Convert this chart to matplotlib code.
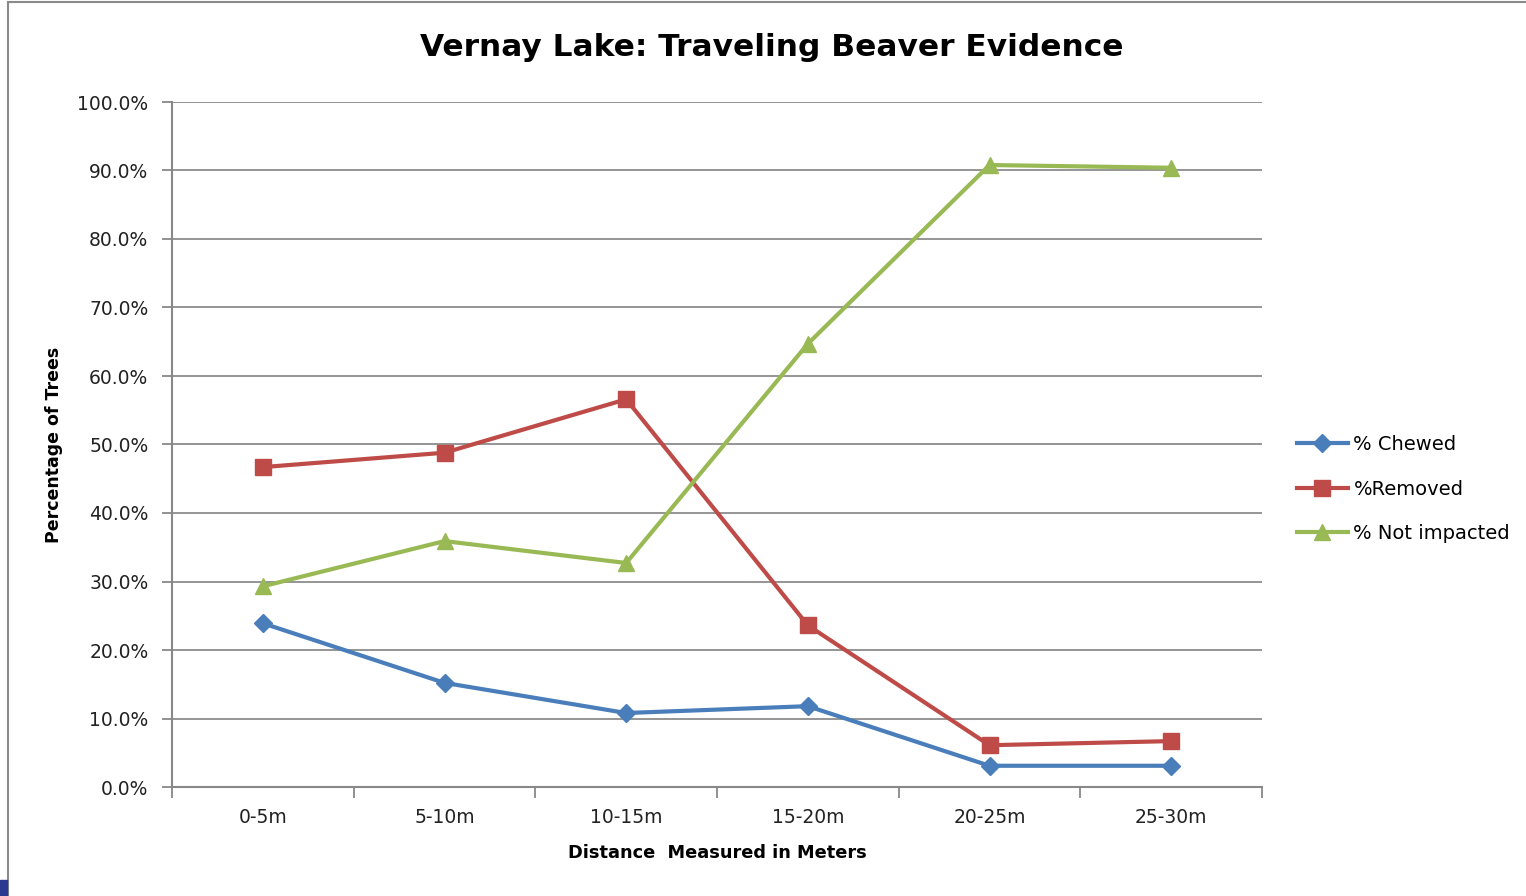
"""Line chart for Vernay Lake traveling beaver evidence"""

import matplotlib.pyplot as plt
from matplotlib.patches import Rectangle
from matplotlib.ticker import FuncFormatter, FixedLocator

# Data (percent of trees)
distances = ['0-5m', '5-10m', '10-15m', '15-20m', '20-25m', '25-30m']
chewed = [23.9, 15.2, 10.8, 11.8, 3.1, 3.1]
removed = [46.7, 48.8, 56.6, 23.6, 6.1, 6.7]
not_impacted = [29.3, 35.9, 32.7, 64.7, 90.8, 90.4]

plt.rcParams['font.family'] = ['DejaVu Sans']

fig = plt.figure(figsize=(15.26, 8.96), dpi=100)
ax = fig.add_axes([172 / 1526, 1 - 787 / 896, (1262 - 172) / 1526, (787 - 102) / 896])

x = list(range(len(distances)))
ax.plot(x, chewed, color='#4a7ebb', lw=3, marker='D', ms=9, label='% Chewed', zorder=3)
ax.plot(x, removed, color='#be4b48', lw=3, marker='s', ms=11, label='%Removed', zorder=3)
ax.plot(x, not_impacted, color='#98b954', lw=3, marker='^', ms=12, label='% Not impacted', zorder=3)

# Axes and gridlines
ax.set_xlim(-0.5, len(distances) - 0.5)
ax.set_ylim(0, 100)
ax.set_yticks(range(0, 101, 10))
ax.yaxis.set_major_formatter(FuncFormatter(lambda v, p: f'{v:.1f}%'))
ax.set_xticks(x)
ax.set_xticklabels(distances)
ax.xaxis.set_minor_locator(FixedLocator([i - 0.5 for i in range(len(distances) + 1)]))
ax.tick_params(axis='x', which='major', length=0, pad=15, labelsize=13.5, colors='#222222')
ax.tick_params(axis='x', which='minor', length=8, width=1.3, color='#888888', direction='out')
ax.tick_params(axis='y', length=7, width=1.3, color='#888888', pad=10, labelsize=13.5,
               labelcolor='#222222')
ax.grid(axis='y', color='#8c8c8c', lw=1.3, zorder=0)
for side in ['top', 'right']:
    ax.spines[side].set_visible(False)
for side in ['left', 'bottom']:
    ax.spines[side].set_color('#888888')
    ax.spines[side].set_linewidth(1.5)

# Labels and title
ax.set_xlabel('Distance  Measured in Meters', fontsize=12.8, fontweight='bold', labelpad=12)
ax.set_ylabel('Percentage of Trees', fontsize=12.5, fontweight='bold', labelpad=10)
fig.text(772 / 1526, 1 - 47 / 896, 'Vernay Lake: Traveling Beaver Evidence', ha='center',
         va='center', fontsize=22.5, fontweight='bold')

ax.legend(loc='center left', bbox_to_anchor=(1.025, 0.435), frameon=False, fontsize=14,
          handlelength=2.6, labelspacing=1.3, handletextpad=0.3, borderaxespad=0)

# Chart frame
fig.patches.append(Rectangle((8 / 1526, -0.01), 1.02, 1 - 2 / 896 + 0.01,
                             transform=fig.transFigure, fill=False, ec='#8a8a8a', lw=1.5))
fig.patches.append(Rectangle((0, 0), 7 / 1526, 16 / 896, transform=fig.transFigure,
                             color='#2b3990'))

plt.savefig('out.png', dpi=100)
